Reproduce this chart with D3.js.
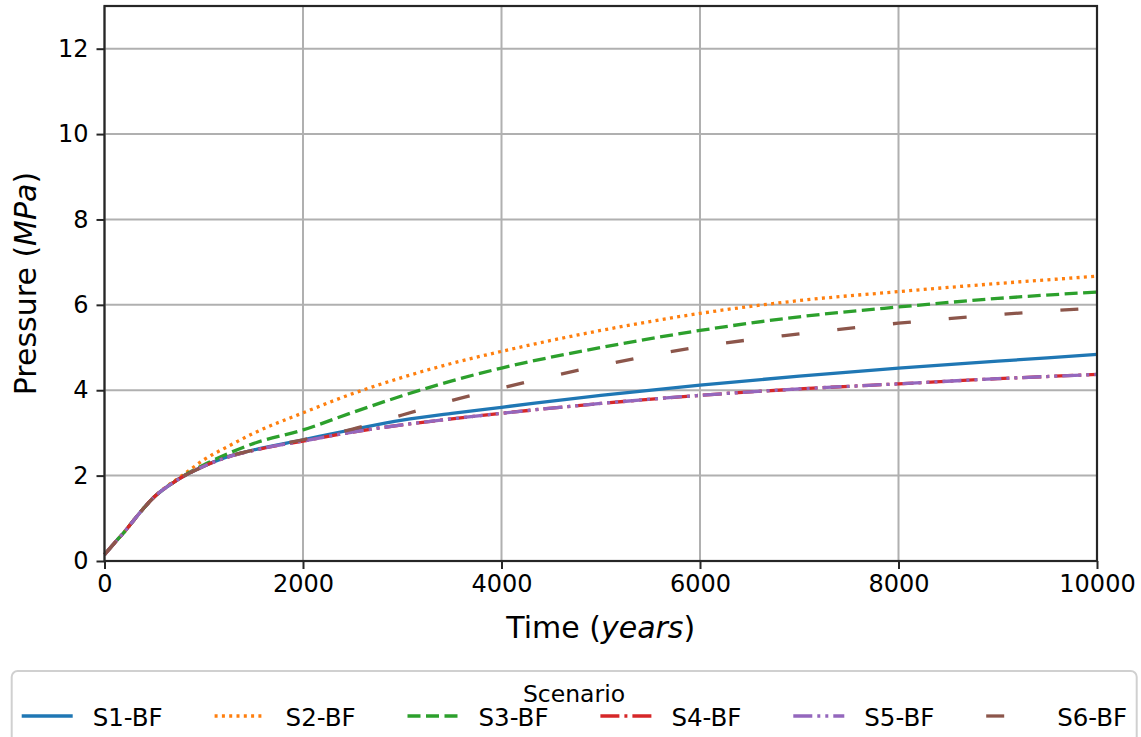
<!DOCTYPE html>
<html>
<head>
<meta charset="utf-8">
<script src="https://cdn.jsdelivr.net/npm/d3@7"></script>
<style>
  body { margin: 0; background: #fff; }
  text { font-family: "DejaVu Sans", sans-serif; fill: #000; }
</style>
</head>
<body>
<div id="chart"></div>
<script>
// years on the x axis
const years = [0, 100, 200, 300, 400, 500, 600, 700, 800, 1000, 1250, 1500, 2000, 2500, 3000, 3500, 4000, 5000, 6000, 7000, 8000, 9000, 10000];

// pressure (MPa) per scenario
const s1 = [0.15, 0.42, 0.68, 0.97, 1.25, 1.50, 1.69, 1.85, 1.99, 2.22, 2.45, 2.60, 2.84, 3.08, 3.30, 3.46, 3.60, 3.88, 4.12, 4.33, 4.52, 4.68, 4.84];
const s2 = [0.15, 0.42, 0.68, 0.97, 1.25, 1.50, 1.70, 1.87, 2.03, 2.37, 2.69, 2.99, 3.47, 3.92, 4.30, 4.63, 4.91, 5.40, 5.80, 6.10, 6.31, 6.50, 6.67];
const s3 = [0.15, 0.42, 0.68, 0.97, 1.25, 1.50, 1.69, 1.85, 2.00, 2.25, 2.52, 2.75, 3.07, 3.48, 3.87, 4.22, 4.52, 5.00, 5.40, 5.72, 5.95, 6.15, 6.30];
const s4 = [0.15, 0.42, 0.68, 0.97, 1.25, 1.50, 1.69, 1.85, 1.99, 2.22, 2.44, 2.59, 2.81, 3.02, 3.19, 3.33, 3.46, 3.69, 3.88, 4.03, 4.15, 4.27, 4.37];
const s5 = [0.15, 0.42, 0.68, 0.97, 1.25, 1.50, 1.69, 1.85, 1.99, 2.22, 2.44, 2.59, 2.81, 3.02, 3.19, 3.33, 3.46, 3.69, 3.88, 4.03, 4.15, 4.27, 4.37];
const s6 = [0.15, 0.42, 0.68, 0.97, 1.25, 1.50, 1.69, 1.85, 1.99, 2.22, 2.45, 2.60, 2.84, 3.09, 3.42, 3.76, 4.05, 4.58, 5.02, 5.32, 5.57, 5.77, 5.93];

const names = ["S1-BF", "S2-BF", "S3-BF", "S4-BF", "S5-BF", "S6-BF"];
const xTicks = [0, 2000, 4000, 6000, 8000, 10000];
const yTicks = [0, 2, 4, 6, 8, 10, 12];

const colors = ["#1f77b4", "#ff7f0e", "#2ca02c", "#d62728", "#9467bd", "#8c564b"];
const dashes = ["none", "3,4.3", "13,5.5", "19,5,3,5", "19,5,3,5,3,5", "18,38"];

const series = [s1, s2, s3, s4, s5, s6].map((vals, i) => ({
  name: names[i],
  values: years.map((t, j) => ({t: t, p: vals[j]}))
}));

const width = 1141, height = 737,
  margin = {top: 6, right: 44, bottom: 176, left: 104.5};

const svg = d3.select("#chart").append("svg")
  .attr("width", width).attr("height", height);

const x = d3.scaleLinear().domain([0, 10000]).range([margin.left, width - margin.right]);
const y = d3.scaleLinear().domain([0, 13]).range([height - margin.bottom, margin.top]);

// grid
svg.append("g").selectAll("line").data(xTicks).enter().append("line")
  .attr("x1", d => x(d)).attr("x2", d => x(d))
  .attr("y1", y(0)).attr("y2", y(13))
  .attr("stroke", "#b0b0b0").attr("stroke-width", 2);
svg.append("g").selectAll("line").data(yTicks).enter().append("line")
  .attr("x1", x(0)).attr("x2", x(10000))
  .attr("y1", d => y(d)).attr("y2", d => y(d))
  .attr("stroke", "#b0b0b0").attr("stroke-width", 2);

// lines
const line = d3.line().x(d => x(d.t)).y(d => y(d.p)).curve(d3.curveMonotoneX);
svg.append("g").selectAll("path").data(series).enter().append("path")
  .attr("d", d => line(d.values))
  .attr("fill", "none")
  .attr("stroke", (d, i) => colors[i])
  .attr("stroke-width", 3.3)
  .attr("stroke-dasharray", (d, i) => dashes[i]);

// axes
const xAxis = svg.append("g")
  .attr("transform", "translate(0," + y(0) + ")")
  .call(d3.axisBottom(x).tickValues(xTicks).tickFormat(d3.format("d")).tickSizeOuter(0).tickSize(8).tickPadding(6));
const yAxis = svg.append("g")
  .attr("transform", "translate(" + x(0) + ",0)")
  .call(d3.axisLeft(y).tickValues(yTicks).tickSizeOuter(0).tickSize(8).tickPadding(8));
[xAxis, yAxis].forEach(g => {
  g.select(".domain").remove();
  g.selectAll("line").attr("stroke", "#262626").attr("stroke-width", 2);
  g.selectAll("text").attr("font-size", 24).attr("font-family", "DejaVu Sans").attr("fill", "#000");
});

// frame
svg.append("rect")
  .attr("x", x(0)).attr("y", y(13))
  .attr("width", x(10000) - x(0)).attr("height", y(0) - y(13))
  .attr("fill", "none").attr("stroke", "#262626").attr("stroke-width", 2.2);

// axis labels
const xl = svg.append("text")
  .attr("x", (x(0) + x(10000)) / 2).attr("y", 638)
  .attr("text-anchor", "middle").attr("font-size", 30);
xl.append("tspan").text("Time (");
xl.append("tspan").attr("font-style", "italic").text("years");
xl.append("tspan").text(")");

const yl = svg.append("text")
  .attr("transform", "translate(36," + (y(0) + y(13)) / 2 + ") rotate(-90)")
  .attr("text-anchor", "middle").attr("font-size", 30);
yl.append("tspan").text("Pressure (");
yl.append("tspan").attr("font-style", "italic").text("MPa");
yl.append("tspan").text(")");

// legend
const leg = svg.append("g");
leg.append("rect")
  .attr("x", 11.7).attr("y", 671).attr("width", 1125).attr("height", 90)
  .attr("rx", 6).attr("fill", "#fff").attr("fill-opacity", 0.8)
  .attr("stroke", "#d0d0d0").attr("stroke-width", 2);
leg.append("text").attr("x", 574).attr("y", 701.5)
  .attr("text-anchor", "middle").attr("font-size", 23.5).text("Scenario");
const items = leg.selectAll("g.item").data(series).enter().append("g")
  .attr("class", "item")
  .attr("transform", (d, i) => "translate(" + (21.7 + i * 192.9) + ",0)");
items.append("line")
  .attr("x1", 0).attr("x2", 51).attr("y1", 716).attr("y2", 716)
  .attr("stroke", (d, i) => colors[i]).attr("stroke-width", 3.3)
  .attr("stroke-dasharray", (d, i) => dashes[i]);
items.append("text").attr("x", 71).attr("y", 726)
  .attr("font-size", 24.5).text(d => d.name);
</script>
</body>
</html>
